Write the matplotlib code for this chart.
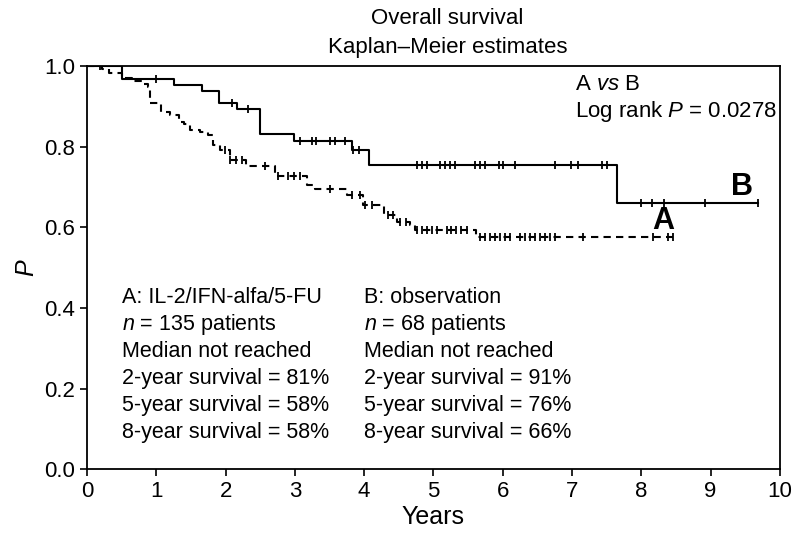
"""Overall survival, Kaplan-Meier estimates (A vs B)."""

import numpy as np
import matplotlib
matplotlib.use("Agg")
import matplotlib.pyplot as plt

# Arm A: IL-2/IFN-alfa/5-FU (dashed)
a_times = [0, 0.21, 0.32, 0.50, 0.645, 0.81, 0.88, 0.91, 1.06, 1.20, 1.32, 1.40, 1.48,
           1.63, 1.75, 1.82, 1.92, 2.06, 2.30, 2.71, 3.17, 3.29, 3.75, 3.99, 4.28,
           4.47, 4.66, 4.73, 5.62]
a_surv = [1.0, 0.992, 0.983, 0.970, 0.963, 0.956, 0.949, 0.909, 0.887, 0.878, 0.862, 0.857, 0.841,
          0.837, 0.829, 0.804, 0.792, 0.767, 0.752, 0.727, 0.705, 0.696, 0.680, 0.655, 0.630,
          0.614, 0.605, 0.593, 0.576]
a_end = 8.46
a_cens = [1.99, 2.07, 2.15, 2.23, 2.57, 2.76, 2.90, 2.98, 3.07, 3.50, 3.82, 3.94, 4.01,
          4.11, 4.35, 4.42, 4.52, 4.61, 4.76, 4.83, 4.90, 4.98, 5.05, 5.19, 5.26, 5.33,
          5.40, 5.49, 5.67, 5.74, 5.82, 5.89, 5.96, 6.03, 6.10, 6.25, 6.32, 6.39, 6.46,
          6.54, 6.61, 6.68, 6.75, 7.16, 8.17, 8.39, 8.46]

# Arm B: observation (solid)
b_times = [0, 0.50, 1.25, 1.66, 1.91, 2.16, 2.50, 2.99, 3.82, 4.07, 7.65]
b_surv = [1.0, 0.967, 0.954, 0.939, 0.909, 0.893, 0.831, 0.815, 0.793, 0.754, 0.661]
b_end = 9.69
b_cens = [0.18, 1.00, 2.09, 2.33, 3.08, 3.24, 3.31, 3.51, 3.58, 3.72, 3.84, 3.93, 4.76,
          4.83, 4.90, 5.09, 5.17, 5.24, 5.31, 5.60, 5.67, 5.74, 5.94, 6.00, 6.17, 6.75,
          6.99, 7.08, 7.43, 7.50, 7.99, 8.16, 8.33, 8.92, 9.69]

a_text = ["A: IL-2/IFN-alfa/5-FU", "$\\mathit{n}$ = 135 patients", "Median not reached",
          "2-year survival = 81%", "5-year survival = 58%", "8-year survival = 58%"]
b_text = ["B: observation", "$\\mathit{n}$ = 68 patients", "Median not reached",
          "2-year survival = 91%", "5-year survival = 76%", "8-year survival = 66%"]

plt.rcParams["font.family"] = ["Liberation Sans", "DejaVu Sans"]
plt.rcParams["mathtext.fontset"] = "custom"
plt.rcParams["mathtext.rm"] = "Liberation Sans"
plt.rcParams["mathtext.it"] = "Liberation Sans:italic"


def km_curve(ax, times, surv, end, cens, ls, dashes=None):
    t = list(times) + [end]
    s = list(surv) + [surv[-1]]
    line, = ax.step(t, s, where="post", color="black", linewidth=1.5, linestyle=ls)
    if dashes:
        line.set_dashes(dashes)
    idx = np.searchsorted(times, cens, side="right") - 1
    ax.plot(cens, np.array(surv)[idx], linestyle="none", marker="|", markersize=6,
            markeredgewidth=1.3, color="black")


fig = plt.figure(figsize=(7.99, 5.38), dpi=100)
ax = fig.add_axes([0.109, 0.128, 0.867, 0.749])

km_curve(ax, a_times, a_surv, a_end, a_cens, "--", dashes=(3.5, 2.5))
km_curve(ax, b_times, b_surv, b_end, b_cens, "-")

ax.set_xlim(0, 10)
ax.set_ylim(0, 1.0)
ax.set_xticks(range(0, 11))
ax.set_yticks(np.arange(0, 1.01, 0.2))
ax.set_yticklabels([f"{v:.1f}" for v in np.arange(0, 1.01, 0.2)])
ax.tick_params(direction="out", length=5, width=1.2, labelsize=16)
for sp in ax.spines.values():
    sp.set_linewidth(1.3)
ax.set_xlabel("Years", fontsize=18, labelpad=2)
ax.set_ylabel("$\\mathit{P}$", fontsize=18, labelpad=4)

fig.text(0.56, 0.966, "Overall survival", ha="center", va="center", fontsize=16)
fig.text(0.56, 0.911, "Kaplan\u2013Meier estimates", ha="center", va="center", fontsize=16)

ax.text(7.05, 0.955, "A $\\mathit{vs}$ B", fontsize=16, va="center")
ax.text(7.05, 0.888, "Log rank $\\mathit{P}$ = 0.0278", fontsize=16, va="center")

ax.text(8.32, 0.615, "A", fontsize=22, fontweight="bold", ha="center", va="center")
ax.text(9.45, 0.70, "B", fontsize=22, fontweight="bold", ha="center", va="center")

for i, (ta, tb) in enumerate(zip(a_text, b_text)):
    y = 0.425 - i * 0.067
    ax.text(0.5, y, ta, fontsize=15.5, va="center")
    ax.text(4.0, y, tb, fontsize=15.5, va="center")

fig.savefig("out.png", dpi=100)
plt.close(fig)
